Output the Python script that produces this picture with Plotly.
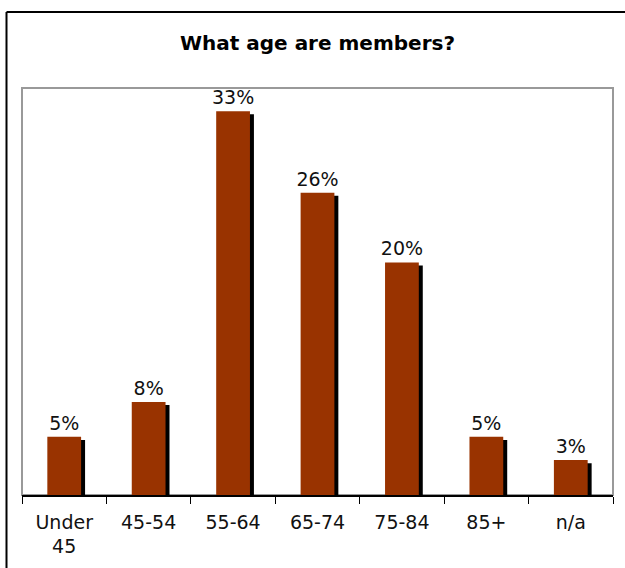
import plotly.graph_objects as go

categories = ["Under<br>45", "45-54", "55-64", "65-74", "75-84", "85+", "n/a"]
values = [5, 8, 33, 26, 20, 5, 3]
labels = ["5%", "8%", "33%", "26%", "20%", "5%", "3%"]

BAR_COLOR = "#993300"
SHADOW_DROP = 0.26  # shadow top sits slightly below the bar top

W, H = 625, 568
L, R, T, B = 22, 12, 88, 73
PW, PH = W - L - R, H - T - B

fig = go.Figure()
fig.add_trace(go.Bar(
    x=categories, y=[v - SHADOW_DROP for v in values],
    width=0.4, offset=-0.153,
    marker=dict(color="black", line=dict(width=0)),
    hoverinfo="skip", showlegend=False,
))
fig.add_trace(go.Bar(
    x=categories, y=values,
    width=0.4, offset=-0.2,
    marker=dict(color=BAR_COLOR, line=dict(width=0)),
    text=labels, textposition="outside", cliponaxis=False,
    constraintext="none", textangle=0,
    textfont=dict(family="DejaVu Sans", size=19, color="#111111"),
    showlegend=False,
))

fig.update_layout(
    width=W, height=H,
    margin=dict(l=L, r=R, t=T, b=B, autoexpand=False),
    paper_bgcolor="white", plot_bgcolor="white",
    barmode="overlay",
    title=dict(text="<b>What age are members?</b>", x=0.5, xref="paper",
               y=1 - 43 / H, yanchor="middle",
               font=dict(family="DejaVu Sans", size=20, color="black")),
    xaxis=dict(showgrid=False, showline=True, linecolor="black", linewidth=1.5,
               ticks="outside", tickson="boundaries", ticklen=7, tickcolor="black",
               tickwidth=1, tickfont=dict(family="DejaVu Sans", size=19, color="#111111"),
               ticklabelstandoff=9, automargin=False),
    yaxis=dict(range=[0, 35], showgrid=False, showticklabels=False, zeroline=False,
               showline=False, automargin=False),
    shapes=[
        dict(type="rect", xref="paper", yref="paper", x0=0, x1=1, y0=0, y1=1,
             line=dict(color="#999999", width=2), layer="below"),
        # outer frame: only left and top edges are visible in the reference
        dict(type="line", xref="paper", yref="paper",
             x0=(6.5 - L) / PW, x1=(6.5 - L) / PW,
             y0=-(B + 5) / PH, y1=1 + (T - 12) / PH,
             line=dict(color="black", width=2)),
        dict(type="line", xref="paper", yref="paper",
             x0=(6.5 - L) / PW, x1=(W + 5 - L) / PW,
             y0=1 + (T - 12) / PH, y1=1 + (T - 12) / PH,
             line=dict(color="black", width=2)),
    ],
    font=dict(family="DejaVu Sans"),
)

fig.write_html(
    "out.html",
    config={"displayModeBar": False},
    post_script="document.body.style.margin='0';document.body.style.overflow='hidden';",
)
